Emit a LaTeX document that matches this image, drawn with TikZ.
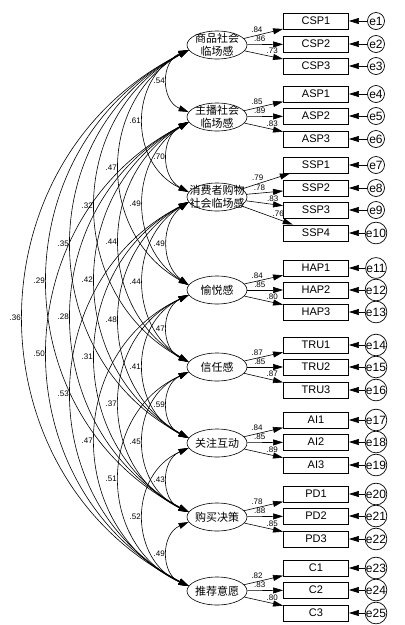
\documentclass[tikz,border=0pt]{standalone}
\usepackage{fontspec}
\setmainfont{Liberation Sans}
\newfontfamily\cjk{Noto Sans CJK SC}
\usetikzlibrary{arrows.meta,shapes.geometric}

\tikzset{
  latent/.style={draw, ellipse, line width=0.6pt, minimum width=60pt,
    minimum height=28pt, inner sep=-8pt, align=center,
    font=\cjk\fontsize{11}{13}\selectfont},
  obs/.style={draw, line width=0.9pt, minimum width=65pt,
    minimum height=16pt, inner sep=0pt, font=\fontsize{11}{13}\selectfont},
  err/.style={draw, circle, line width=0.7pt, minimum size=17pt,
    inner sep=0pt, font=\fontsize{12}{14}\selectfont},
  arr/.style={-{Triangle[length=10pt,width=6pt]}, line width=0.6pt},
  cov/.style={{Triangle[length=10pt,width=6pt]}-{Triangle[length=10pt,width=6pt]},
    line width=0.6pt},
  coef/.style={font=\fontsize{8}{9}\selectfont, inner sep=1pt}
}

\begin{document}
\begin{tikzpicture}[x=1pt,y=-1pt]
\useasboundingbox (0,0) rectangle (405,625);

% Latent variables
\node[latent] (L1) at (217,45) {商品社会\\临场感};
\node[latent] (L2) at (217,117) {主播社会\\临场感};
\node[latent] (L3) at (217,197) {消费者购物\\社会临场感};
\node[latent] (L4) at (217,290) {愉悦感};
\node[latent] (L5) at (217,367) {信任感};
\node[latent] (L6) at (217,443) {关注互动};
\node[latent] (L7) at (217,517) {购买决策};
\node[latent] (L8) at (217,591) {推荐意愿};

% Indicators and errors
\foreach \name/\y/\e in {CSP1/21/1, CSP2/44/2, CSP3/66/3,
    ASP1/94/4, ASP2/116/5, ASP3/139/6,
    SSP1/165/7, SSP2/188/8, SSP3/210/9, SSP4/233/10,
    HAP1/268/11, HAP2/290/12, HAP3/312/13,
    TRU1/345/14, TRU2/367/15, TRU3/390/16,
    AI1/420/17, AI2/442/18, AI3/465/19,
    PD1/494/20, PD2/516/21, PD3/539/22,
    C1/568/23, C2/590/24, C3/613/25} {
  \node[obs] (\name) at (316,\y) {\name};
  \node[err] (e\e) at (376,\y) {e\e};
  \draw[arr] (e\e) -- (\name);
}

% Loadings
\foreach \lat/\ind/\p/\v in {L1/CSP1/.33/.84, L1/CSP2/.35/.86, L1/CSP3/.72/.73,
    L2/ASP1/.33/.85, L2/ASP2/.35/.89, L2/ASP3/.72/.83,
    L3/SSP1/.33/.79, L3/SSP2/.35/.78, L3/SSP3/.72/.83, L3/SSP4/.72/.76,
    L4/HAP1/.33/.84, L4/HAP2/.35/.85, L4/HAP3/.72/.80,
    L5/TRU1/.33/.87, L5/TRU2/.35/.85, L5/TRU3/.72/.87,
    L6/AI1/.33/.84, L6/AI2/.35/.85, L6/AI3/.72/.89,
    L7/PD1/.33/.78, L7/PD2/.35/.88, L7/PD3/.72/.85,
    L8/C1/.33/.82, L8/C2/.35/.83, L8/C3/.72/.80}
  \draw[arr] (\lat) -- node[coef, pos=\p, above=1.5pt] (w\ind) {\v} (\ind);

% Covariances (y of each latent passed in the list)
\foreach \a/\ya/\b/\yb/\v in {1/45/2/117/.54, 1/45/3/197/.61, 1/45/4/290/.47,
    1/45/5/367/.32, 1/45/6/443/.35, 1/45/7/517/.29, 1/45/8/591/.36,
    2/117/3/197/.70, 2/117/4/290/.49, 2/117/5/367/.44, 2/117/6/443/.42,
    2/117/7/517/.28, 2/117/8/591/.50,
    3/197/4/290/.49, 3/197/5/367/.44, 3/197/6/443/.48, 3/197/7/517/.31,
    3/197/8/591/.53,
    4/290/5/367/.47, 4/290/6/443/.41, 4/290/7/517/.37, 4/290/8/591/.47,
    5/367/6/443/.59, 5/367/7/517/.45, 5/367/8/591/.51,
    6/443/7/517/.43, 6/443/8/591/.52,
    7/517/8/591/.49} {
  \pgfmathsetmacro\hc{(\yb-\ya)/2-5}
  \pgfmathsetmacro\sg{24*(\b-\a)-3}
  \pgfmathsetmacro\rad{\hc/(2*\sg)*\hc+\sg/2}
  \pgfmathsetmacro\ang{asin(\hc/\rad)}
  \pgfmathsetmacro\hl{4/3*tan(\ang/2)*\rad}
  \pgfmathsetmacro\cx{-\hl*sin(\ang)}
  \pgfmathsetmacro\cy{\hl*cos(\ang)}
  \pgfmathsetmacro\xl{192-24*(\b-\a)}
  \pgfmathsetmacro\ym{(\ya+\yb)/2}
  \draw[cov] (L\a.190) .. controls +(\cx,\cy) and +(\cx,-\cy) .. (L\b.170);
  \node[coef, anchor=east] (c\a\b) at (\xl-2,\ym) {\v};
}

\end{tikzpicture}
\end{document}
